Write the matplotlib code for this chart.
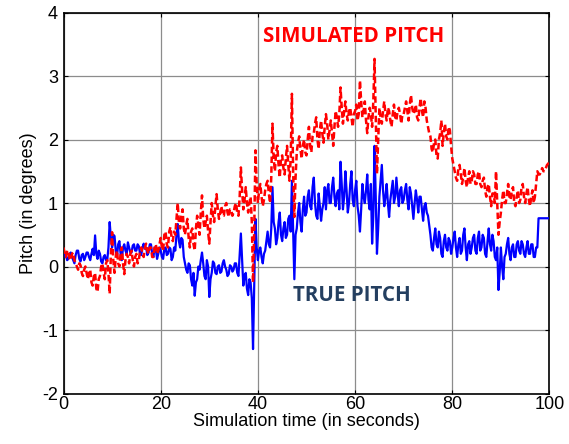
import numpy as np
import matplotlib
matplotlib.use("Agg")
import matplotlib.pyplot as plt

plt.rcParams['font.family'] = ['Liberation Sans', 'DejaVu Sans']
plt.rcParams['axes.unicode_minus'] = False

SAMPLE_DT = 0.25  # seconds between samples

true_pitch = [
    0.15, 0.22, 0.18, 0.10, 0.12, 0.20, 0.22, 0.15, 0.10, 0.05, 0.18, 0.25, 0.25, 0.12, 0.08, 0.18, 0.20, 0.10, 0.15, 0.22,
    0.22, 0.15, 0.10, 0.20, 0.28, 0.18, 0.49, 0.20, 0.12, 0.25, 0.20, 0.08, 0.05, 0.15, 0.18, 0.10, 0.10, 0.30, 0.70, 0.45,
    0.30, 0.50, 0.48, 0.25, 0.15, 0.35, 0.40, 0.20, 0.10, 0.30, 0.35, 0.25, 0.20, 0.38, 0.30, 0.22, 0.22, 0.33, 0.35, 0.25,
    0.25, 0.35, 0.32, 0.20, 0.18, 0.30, 0.36, 0.28, 0.30, 0.18, 0.22, 0.35, 0.35, 0.20, 0.15, 0.30, 0.28, 0.12, 0.20, 0.30,
    0.25, 0.15, 0.12, 0.28, 0.30, 0.18, 0.20, 0.30, 0.28, 0.10, 0.15, 0.30, 0.25, 0.50, 0.67, 0.40, 0.30, 0.45, 0.42, 0.15,
    0.05, -0.05, -0.10, 0.05, 0.02, -0.20, -0.30, -0.10, -0.46, -0.25, -0.20, 0.00, -0.05, 0.10, 0.22, 0.05, -0.15, -0.20, 0.10, 0.00,
    -0.48, -0.20, -0.10, 0.08, 0.05, -0.10, -0.12, 0.00, 0.02, -0.10, -0.08, 0.05, 0.10, 0.00, -0.05, -0.15, -0.12, 0.02, 0.00, -0.08,
    -0.05, 0.05, 0.05, -0.10, -0.15, 0.20, 0.52, 0.10, -0.30, -0.15, -0.10, -0.35, -0.45, -0.20, -0.25, -0.50, -1.30, -0.30, 0.75, 0.30,
    0.10, 0.25, 0.30, 0.15, 0.05, 0.20, 0.25, 0.40, 0.55, 0.35, 0.30, 0.60, 1.25, 0.70, 0.60, 0.35, 0.45, 0.70, 0.85, 0.50,
    0.40, 0.60, 0.70, 0.45, 0.50, 0.75, 0.80, 0.55, 1.35, 0.60, -0.20, 0.50, 0.60, 0.85, 1.00, 0.70, 0.55, 0.90, 1.10, 0.80,
    0.85, 1.10, 1.20, 0.95, 0.90, 1.25, 1.40, 1.00, 0.80, 0.75, 1.15, 0.95, 0.72, 0.90, 1.00, 1.25, 0.90, 1.20, 1.30, 1.00,
    1.00, 1.25, 1.40, 1.10, 0.95, 1.15, 1.20, 0.90, 1.65, 1.30, 0.90, 1.10, 1.50, 1.20, 0.85, 1.00, 1.30, 1.50, 1.05, 0.95,
    1.20, 1.35, 0.95, 0.80, 0.55, 0.90, 1.30, 1.10, 1.00, 1.20, 1.45, 1.05, 0.90, 1.30, 0.36, 0.80, 1.90, 1.10, 0.20, 0.60,
    1.10, 1.35, 1.60, 1.20, 0.95, 1.10, 1.30, 1.00, 0.78, 1.05, 1.20, 1.35, 1.00, 1.10, 1.40, 1.15, 0.95, 1.20, 1.25, 1.00,
    1.05, 1.20, 1.30, 1.05, 0.90, 1.25, 1.15, 0.95, 0.75, 1.00, 1.20, 1.05, 0.85, 1.10, 1.10, 0.90, 0.72, 0.95, 1.00, 0.85,
    0.80, 0.65, 0.50, 0.30, 0.25, 0.45, 0.60, 0.35, 0.30, 0.55, 0.45, 0.20, 0.15, 0.40, 0.50, 0.30, 0.25, 0.45, 0.40, 0.20,
    0.30, 0.45, 0.55, 0.30, 0.15, 0.35, 0.45, 0.20, 0.25, 0.50, 0.60, 0.30, 0.10, 0.35, 0.40, 0.20, 0.30, 0.45, 0.50, 0.25,
    0.20, 0.45, 0.55, 0.25, 0.30, 0.50, 0.45, 0.20, 0.15, 0.40, 0.60, 0.35, 0.25, 0.50, 0.40, 0.15, 0.10, 0.30, -0.37, -0.10,
    0.30, 0.00, -0.20, 0.15, 0.20, 0.35, 0.45, 0.20, 0.10, 0.30, 0.35, 0.15, 0.15, 0.35, 0.40, 0.25, 0.20, 0.40, 0.35, 0.20,
    0.15, 0.30, 0.40, 0.20, 0.20, 0.35, 0.35, 0.15, 0.15, 0.30, 0.30, 0.76, 0.76, 0.76, 0.76, 0.76, 0.76, 0.76, 0.76, 0.76,
    0.76,
]

simulated_pitch = [
    0.30, 0.20, 0.15, 0.25, 0.25, 0.12, 0.10, 0.20, 0.22, 0.10, 0.05, 0.00, -0.05, 0.05, 0.02, -0.10, -0.15, -0.05, 0.00, -0.10,
    -0.20, -0.10, -0.05, -0.25, -0.30, -0.15, -0.10, -0.35, -0.40, -0.20, -0.15, 0.00, 0.05, -0.10, -0.20, 0.05, 0.10, -0.10, -0.43, 0.20,
    0.54, 0.10, -0.10, 0.15, 0.25, 0.05, 0.00, 0.20, 0.30, 0.05, -0.12, 0.10, 0.20, 0.15, 0.05, 0.20, 0.25, 0.10, 0.00, 0.15,
    0.20, 0.05, 0.10, 0.25, 0.30, 0.20, 0.15, 0.30, 0.36, 0.25, 0.20, 0.30, 0.30, 0.15, 0.15, 0.30, 0.35, 0.20, 0.25, 0.35,
    0.45, 0.30, 0.25, 0.50, 0.55, 0.35, 0.30, 0.55, 0.62, 0.45, 0.40, 0.55, 0.50, 0.75, 1.00, 0.70, 0.60, 0.80, 0.90, 0.60,
    0.50, 0.65, 0.75, 0.45, 0.30, 0.55, 0.60, 0.35, 0.25, 0.60, 0.80, 0.65, 0.50, 0.85, 1.12, 0.75, 0.60, 0.70, 0.80, 0.55,
    0.36, 0.70, 1.00, 0.80, 0.70, 0.95, 1.14, 0.90, 0.75, 0.85, 0.95, 0.80, 0.80, 0.95, 1.00, 0.85, 0.78, 0.90, 0.90, 0.80,
    0.85, 0.95, 1.00, 0.85, 0.80, 1.10, 1.56, 1.20, 0.90, 1.05, 1.25, 1.00, 0.85, 1.00, 1.10, 0.70, -0.25, 0.60, 1.83, 1.30,
    1.00, 1.20, 1.30, 1.10, 0.95, 1.05, 1.20, 1.30, 1.35, 1.15, 1.00, 1.40, 2.25, 1.70, 1.50, 1.80, 1.90, 1.60, 1.40, 1.70,
    1.75, 1.55, 1.45, 1.70, 1.90, 1.60, 1.35, 1.70, 2.72, 1.50, 0.78, 1.40, 1.80, 1.95, 2.05, 1.85, 1.70, 1.90, 2.00, 1.80,
    1.75, 2.00, 2.20, 1.90, 1.80, 2.05, 2.10, 2.25, 2.35, 2.00, 1.85, 2.15, 2.30, 2.10, 1.95, 2.20, 2.40, 2.25, 2.00, 2.15,
    2.30, 2.10, 1.90, 2.20, 2.45, 2.35, 2.20, 2.40, 2.82, 2.50, 2.25, 2.45, 2.60, 2.40, 2.30, 2.45, 2.50, 2.35, 2.20, 2.40,
    2.45, 2.55, 2.30, 2.40, 2.93, 2.60, 2.35, 2.45, 2.60, 2.30, 2.10, 2.35, 2.50, 2.40, 2.20, 2.60, 3.27, 2.40, 1.46, 2.00,
    2.50, 2.35, 2.25, 2.45, 2.60, 2.40, 2.30, 2.50, 2.45, 2.30, 2.20, 2.40, 2.55, 2.35, 2.30, 2.45, 2.50, 2.40, 2.25, 2.40,
    2.40, 2.50, 2.60, 2.45, 2.30, 2.55, 2.70, 2.50, 2.40, 2.45, 2.55, 2.35, 2.30, 2.50, 2.65, 2.45, 2.35, 2.60, 2.50, 2.30,
    2.20, 2.10, 2.05, 1.85, 1.80, 1.95, 2.00, 1.75, 1.70, 2.00, 2.10, 2.30, 1.90, 2.10, 2.25, 2.05, 2.00, 2.20, 2.15, 1.90,
    1.70, 1.60, 1.50, 1.40, 1.35, 1.55, 1.60, 1.45, 1.30, 1.40, 1.55, 1.35, 1.25, 1.40, 1.50, 1.30, 1.35, 1.50, 1.45, 1.30,
    1.30, 1.45, 1.50, 1.30, 1.25, 1.35, 1.40, 1.20, 1.10, 1.25, 1.30, 1.10, 0.95, 1.15, 1.15, 1.00, 1.50, 1.00, 0.50, 0.70,
    0.85, 1.05, 1.20, 1.00, 1.00, 1.15, 1.30, 1.10, 1.05, 1.20, 1.25, 1.00, 0.95, 1.10, 1.20, 1.00, 1.05, 1.25, 1.30, 1.10,
    1.00, 1.15, 1.25, 1.05, 0.95, 1.10, 1.20, 1.00, 1.10, 1.30, 1.50, 1.45, 1.45, 1.50, 1.55, 1.50, 1.50, 1.55, 1.60, 1.62,
    1.65,
]

x_ticks = [0, 20, 40, 60, 80, 100]
y_ticks = [-2, -1, 0, 1, 2, 3, 4]

t_true = np.arange(len(true_pitch)) * SAMPLE_DT
t_sim = np.arange(len(simulated_pitch)) * SAMPLE_DT

fig = plt.figure(figsize=(5.69, 4.44), dpi=100)
ax = fig.add_axes([0.1116, 0.1137, 0.8541, 0.8581])

ax.plot(t_true, true_pitch, color='#0000ff', lw=1.6, zorder=3)
ax.plot(t_sim, simulated_pitch, color='#ff0000', lw=1.8, ls=(0, (2.6, 1.3)), zorder=4)

ax.set_xlim(0, 100)
ax.set_ylim(-2, 4)
ax.set_xticks(x_ticks)
ax.set_yticks(y_ticks)
ax.tick_params(direction='in', top=True, right=True, labelsize=13, length=3,
               width=0.8)
ax.tick_params(axis='x', pad=2)
ax.tick_params(axis='y', pad=4)
ax.grid(True, color='#8c8c8c', lw=0.9, ls='-', zorder=0)
for s in ax.spines.values():
    s.set_linewidth(1.2)
    s.set_color('black')

ax.set_xlabel('Simulation time (in seconds)', fontsize=13, labelpad=0)
ax.set_ylabel('Pitch (in degrees)', fontsize=13, labelpad=4)

ax.text(0.597, 0.937, 'SIMULATED PITCH', transform=ax.transAxes,
        color='#ff0000', fontsize=14.8, fontweight='bold', family='Open Sans',
        ha='center', va='center', zorder=5)
ax.text(0.594, 0.258, 'TRUE PITCH', transform=ax.transAxes,
        color='#243f60', fontsize=14.8, fontweight='bold', family='Open Sans',
        ha='center', va='center', zorder=5)

fig.savefig('out.png', dpi=100)
